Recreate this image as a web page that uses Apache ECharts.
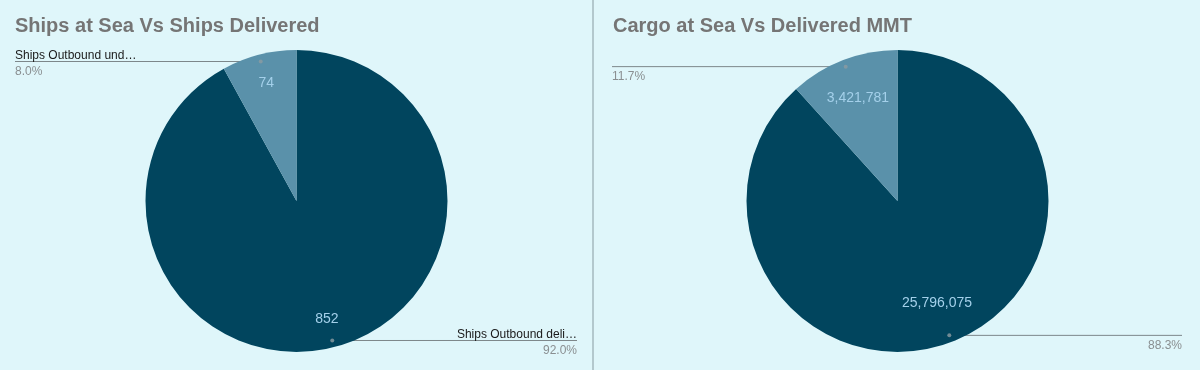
<!DOCTYPE html>
<html>
<head>
<meta charset="utf-8">
<script src="https://cdn.jsdelivr.net/npm/echarts@6/dist/echarts.min.js"></script>
<style>
  html, body { margin: 0; padding: 0; background: #dff6fa; }
  #wrap { width: 1200px; height: 370px; display: flex; }
  #c1 { width: 592px; height: 370px; border-right: 2px solid #b3c8cd; }
  #c2 { width: 606px; height: 370px; }
</style>
</head>
<body>
<div id="wrap"><div id="c1"></div><div id="c2"></div></div>
<script>
// ---- data ----
const shipsTitle = 'Ships at Sea Vs Ships Delivered';
const shipsCategories = ['Ships Outbound delivered', 'Ships Outbound underway'];
const shipsValues = [852, 74];

const cargoTitle = 'Cargo at Sea Vs Delivered MMT';
const cargoCategories = ['Cargo delivered', 'Cargo at sea'];
const cargoValues = [25796075, 3421781];

const sliceColors = ['#01455e', '#5a91aa'];

const FONT = 'Liberation Sans, Arial, sans-serif';

function buildOption(title, cats, vals, cfg) {
  const data = cats.map((c, i) => ({ name: c, value: vals[i] }));
  const total = vals.reduce((a, b) => a + b, 0);
  // angular mid points of each slice (in value units) for the label-line dots
  let acc = 0;
  const dots = vals.map(v => { const m = acc + v / 2; acc += v; return [cfg.dotR, m]; });
  const common = {
    type: 'pie',
    center: cfg.center,
    startAngle: 90,
    clockwise: true,
    silent: true,
    animation: false,
    data: data,
    emphasis: { disabled: true }
  };
  const outerFormatter = p => {
    const pct = p.percent.toFixed(1) + '%';
    const name = cfg.showName
      ? echarts.format.truncateText(p.name, cfg.labelWidth, '12px ' + FONT, '…')
      : ' ';
    return '{n|' + name + '}\n{p|' + pct + '}';
  };
  return {
    backgroundColor: '#dff6fa',
    animation: false,
    title: {
      text: title, left: cfg.titleLeft, top: 11,
      textStyle: { fontFamily: FONT, fontSize: 20, fontWeight: 'bold', color: '#757575' }
    },
    polar: { center: cfg.center, radius: cfg.r },
    angleAxis: { type: 'value', min: 0, max: total, startAngle: 90, clockwise: true, show: false },
    radiusAxis: { type: 'value', min: 0, max: cfg.r, show: false },
    series: [
      Object.assign({}, common, {
        radius: [0, cfg.r],
        itemStyle: { color: p => sliceColors[p.dataIndex], borderWidth: 0 },
        label: { show: false }, labelLine: { show: false }
      }),
      Object.assign({}, common, {
        radius: cfg.innerLabelRing,
        itemStyle: { color: 'rgba(0,0,0,0)', borderWidth: 0 },
        label: {
          show: true, position: 'inside',
          formatter: p => p.value.toLocaleString('en-US'),
          fontFamily: FONT, fontSize: 14, color: '#a4d0ea'
        },
        labelLine: { show: false }
      }),
      Object.assign({}, common, {
        radius: [0, cfg.dotR],
        itemStyle: { color: 'rgba(0,0,0,0)', borderWidth: 0 },
        label: {
          show: true, position: 'outside', alignTo: 'edge', edgeDistance: cfg.edge,
          distanceToLabelLine: -cfg.labelWidth,
          padding: [5, 0, 0, 0],
          formatter: outerFormatter,
          rich: {
            n: { fontFamily: FONT, fontSize: 12, color: '#1a1a1a', lineHeight: 16, width: cfg.labelWidth },
            p: { fontFamily: FONT, fontSize: 12, color: '#8a8f91', lineHeight: 16, width: cfg.labelWidth }
          }
        },
        labelLine: { show: true, length: 0, length2: 10, lineStyle: { color: '#7d878a', width: 1 } }
      }),
      {
        type: 'scatter', coordinateSystem: 'polar', silent: true, animation: false,
        symbolSize: 4, itemStyle: { color: '#8c9ba1' },
        data: dots
      }
    ]
  };
}

const c1 = echarts.init(document.getElementById('c1'));
c1.setOption(buildOption(shipsTitle, shipsCategories, shipsValues, {
  center: [296.5, 201], r: 151, dotR: 144, innerLabelRing: [96, 142],
  titleLeft: 10, edge: 15, labelWidth: 124, showName: true
}));
const c2 = echarts.init(document.getElementById('c2'));
c2.setOption(buildOption(cargoTitle, cargoCategories, cargoValues, {
  center: [303.5, 201], r: 151, dotR: 144, innerLabelRing: [70, 144],
  titleLeft: 14, edge: 18, labelWidth: 60, showName: false
}));
</script>
</body>
</html>
